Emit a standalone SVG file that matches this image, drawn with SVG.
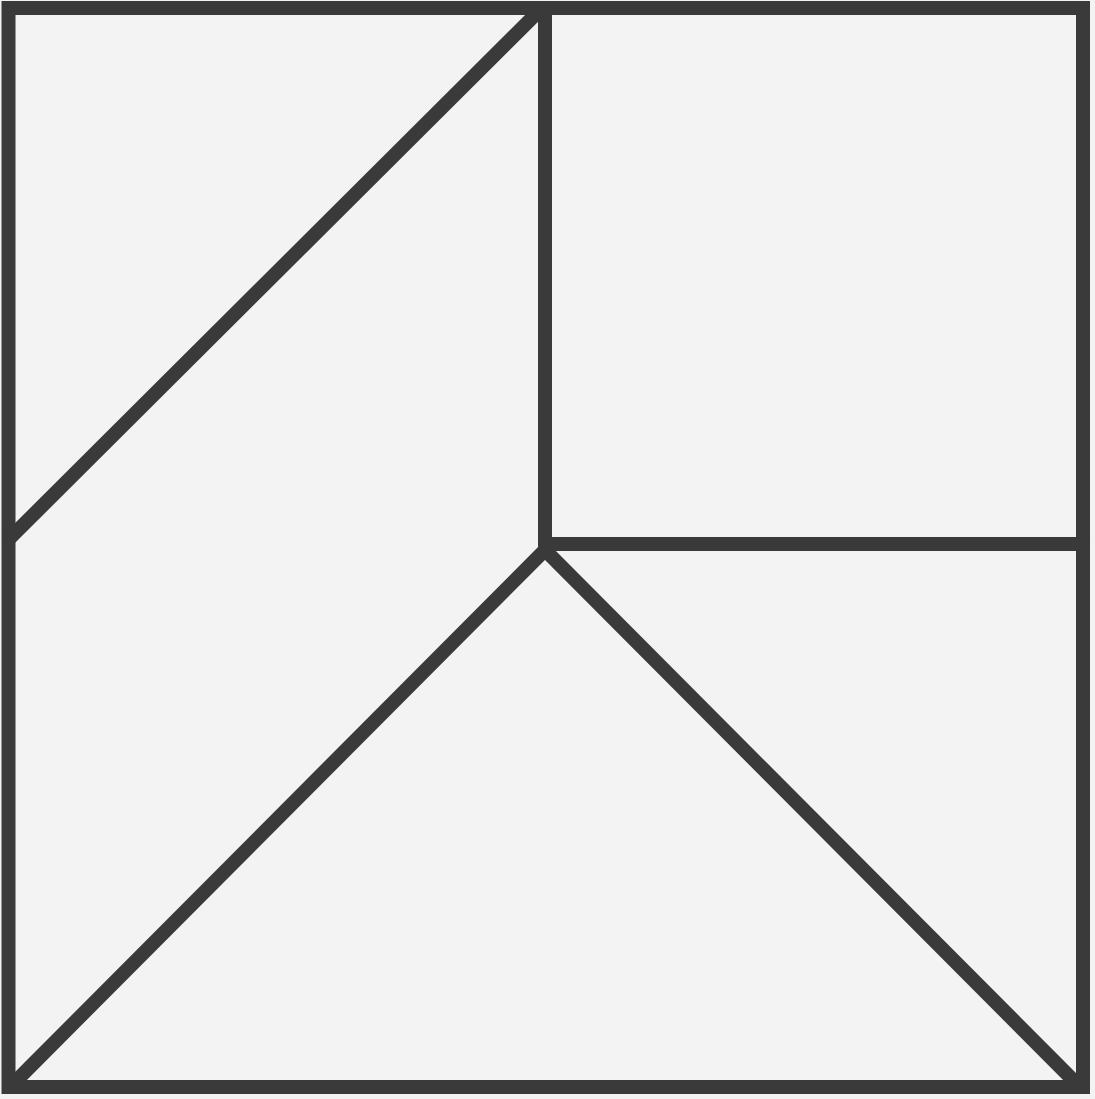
<svg xmlns="http://www.w3.org/2000/svg" width="1095" height="1099" viewBox="0 0 1095 1099">
<style>
.ln{stroke:#3a3a3a;stroke-width:14;fill:none;stroke-linecap:round;stroke-linejoin:miter}
</style>
<rect width="1095" height="1099" fill="#f3f3f3"/>
<g id="frame"><rect class="ln" x="8.5" y="8" width="1074.5" height="1079" stroke-linecap="butt"/></g>
<g id="connectors">
<line class="ln" x1="10" y1="538" x2="540" y2="10"/>
<line class="ln" x1="545" y1="10" x2="545" y2="545"/>
<line class="ln" x1="545" y1="544" x2="1082" y2="544"/>
<line class="ln" x1="545" y1="550" x2="15" y2="1082"/>
<line class="ln" x1="545" y1="550" x2="1075" y2="1082"/>
</g>
</svg>
